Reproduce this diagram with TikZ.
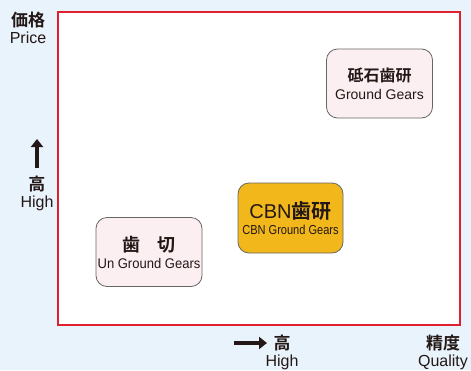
\documentclass[tikz,border=0pt]{standalone}
\usepackage{fontspec}
\setmainfont{Liberation Sans}
\newfontfamily\jp{Noto Sans CJK JP Bold}
\newfontfamily\narrowsans{Liberation Sans}[FakeStretch=0.93]
\newfontfamily\condsans{Liberation Sans}[FakeStretch=0.85]
\usetikzlibrary{arrows.meta}
\definecolor{bgblue}{HTML}{E9F3FC}
\definecolor{framered}{HTML}{E0202E}
\definecolor{pinkfill}{HTML}{FCEFF2}
\definecolor{cbnyellow}{HTML}{F1B71B}
\definecolor{ink}{HTML}{231815}
\begin{document}
\begin{tikzpicture}[x=1pt,y=-1pt,
    gearbox/.style={draw=black!60,line width=0.8pt,fill=pinkfill,rounded corners=11pt,
        minimum width=106pt,minimum height=69pt,align=center,inner sep=0pt,text=ink},
    axislabel/.style={align=center,inner sep=0pt,text=ink},
    bigarrow/.style={line width=3.5pt,-{Triangle[length=8pt,width=12pt]},ink}]
    \fill[bgblue] (0,0) rectangle (471,370);
    \useasboundingbox (0,0) rectangle (471,370);
    \draw[framered,fill=white,line width=2.5pt] (58,12) rectangle (460,325);
    % boxes
    \node[gearbox] (ground) at (379.5,83.5) {{\jp\fontsize{16}{16}\selectfont 砥石歯研}\\[6pt]{\fontsize{14}{14}\selectfont Ground Gears}};
    \node[gearbox,fill=cbnyellow,minimum width=105pt,minimum height=70pt] (cbn) at (290.5,218) {{\fontsize{20}{20}\selectfont CBN{\jp 歯研}}\\[4pt]{\condsans\fontsize{13}{13}\selectfont CBN Ground Gears}};
    \node[gearbox] (uncut) at (149,252) {{\jp\fontsize{18}{18}\selectfont 歯\quad 切}\\[5pt]{\narrowsans\fontsize{14}{14}\selectfont Un Ground Gears}};
    % axes
    \node[axislabel] (price) at (28,28) {{\jp\fontsize{17}{17}\selectfont 価格}\\[3pt]{\fontsize{16}{16}\selectfont Price}};
    \node[axislabel] (yhigh) at (37,193) {{\jp\fontsize{17}{17}\selectfont 高}\\[3pt]{\fontsize{16}{16}\selectfont High}};
    \node[axislabel,anchor=north] (xhigh) at (282,335) {{\jp\fontsize{17}{17}\selectfont 高}\\[3pt]{\fontsize{16}{16}\selectfont High}};
    \node[axislabel,anchor=north] (quality) at (443,335) {{\jp\fontsize{17}{17}\selectfont 精度}\\[3pt]{\fontsize{16}{16}\selectfont Quality}};
    \coordinate (ytail) at (37,168);
    \coordinate (yhead) at (37,139);
    \coordinate (xtail) at (234,343);
    \coordinate (xhead) at (267,343);
    \draw[bigarrow] (ytail) -- (yhead);
    \draw[bigarrow] (xtail) -- (xhead);
\end{tikzpicture}
\end{document}
